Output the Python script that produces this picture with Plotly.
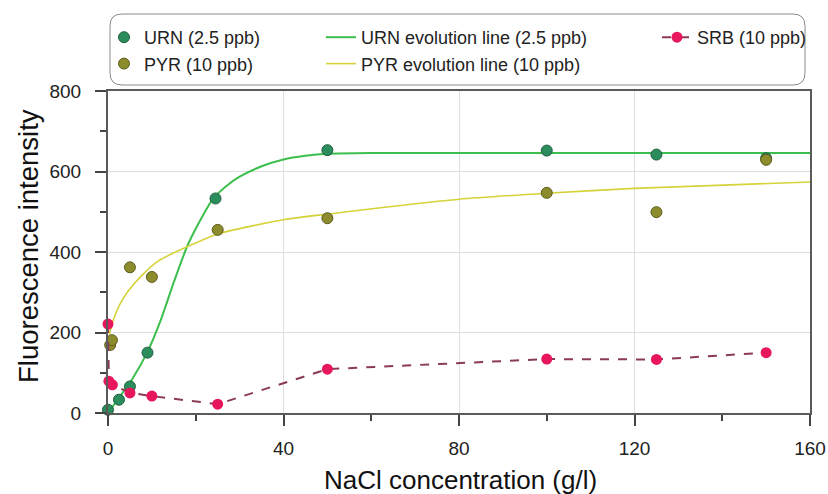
import plotly.graph_objects as go

# ---- data ----
urn_x = [0, 2.5, 5, 9, 24.5, 50, 100, 125, 150]
urn_y = [8, 33, 66, 150, 533, 653, 652, 642, 633]

pyr_x = [0.5, 0.9, 5, 10, 25, 50, 100, 125, 150]
pyr_y = [169, 181, 362, 338, 455, 484, 547, 499, 629]

srb_x = [0, 0.2, 1, 5, 10, 25, 50, 100, 125, 150]
srb_y = [221, 79, 70, 50, 42, 22, 109, 134, 133, 150]

urn_fit_x = [0, 2.5, 5.5, 9, 12, 15, 18, 21, 24, 27, 30, 35, 40, 45, 50, 60, 100, 160]
urn_fit_y = [0, 38, 84, 152, 230, 325, 413, 478, 533, 564, 587, 613, 630, 639, 644, 646, 646, 646]

pyr_fit_x = [0.3, 1.2, 2.7, 4.6, 8, 11.5, 18, 25, 40, 50, 80, 100, 120, 160]
pyr_fit_y = [195, 231, 270, 303, 345, 378, 413, 445, 480, 494, 531, 546, 558, 574]

x_ticks = [0, 40, 80, 120, 160]
y_ticks = [0, 200, 400, 600, 800]

x_title = "NaCl concentration (g/l)"
y_title = "Fluorescence intensity"

FONT = "Liberation Sans, Arial, sans-serif"
FW, FH = 828, 494

fig = go.Figure()

fig.add_trace(go.Scatter(x=urn_fit_x, y=urn_fit_y, mode="lines", line=dict(color="#3cbf4c", width=2, shape="spline", smoothing=0.6),
                         name="URN evolution line (2.5 ppb)", legend="legend2", legendgroup="g3"))
fig.add_trace(go.Scatter(x=pyr_fit_x, y=pyr_fit_y, mode="lines", line=dict(color="#d6d23a", width=1.6, shape="spline", smoothing=0.6),
                         name="PYR evolution line (10 ppb)", legend="legend2", legendgroup="g4"))
fig.add_trace(go.Scatter(x=urn_x, y=urn_y, mode="markers", name="URN (2.5 ppb)", legend="legend", legendgroup="g1",
                         marker=dict(size=11, color="#2b8c5c", line=dict(color="#1f5f40", width=1)), cliponaxis=False))
fig.add_trace(go.Scatter(x=pyr_x, y=pyr_y, mode="markers", name="PYR (10 ppb)", legend="legend", legendgroup="g2",
                         marker=dict(size=11, color="#8d8c2c", line=dict(color="#5e5c1c", width=1)), cliponaxis=False))
fig.add_trace(go.Scatter(x=srb_x, y=srb_y, mode="lines+markers", name="SRB (10 ppb)", legend="legend3", legendgroup="g5",
                         line=dict(color="#8a3b52", width=2, dash="dash"),
                         marker=dict(size=11, color="#e8175d"), cliponaxis=False))

# plot-area pixel frame
L, R, T, B = 108, 810, 91, 413
W, H = R - L, B - T
def px(x):
    return (x - L) / W
def py(y):
    return (B - y) / H
x0, x1, y0, y1 = px(110), px(805), py(85), py(14)
rx, ry = 12 / W, 12 / H
path = (f"M {x0+rx} {y0} L {x1-rx} {y0} Q {x1} {y0} {x1} {y0+ry} L {x1} {y1-ry} Q {x1} {y1} {x1-rx} {y1} "
        f"L {x0+rx} {y1} Q {x0} {y1} {x0} {y1-ry} L {x0} {y0+ry} Q {x0} {y0} {x0+rx} {y0} Z")

def leg(xpix, ypix):
    return dict(x=xpix / FW, y=1 - ypix / FH, xref="container", yref="container", xanchor="left", yanchor="top",
                orientation="v", bgcolor="rgba(0,0,0,0)", tracegroupgap=0,
                font=dict(size=18, family=FONT, color="#222"))

fig.update_layout(
    width=FW, height=FH,
    margin=dict(l=L, r=FW - R, t=T, b=FH - B, autoexpand=False),
    paper_bgcolor="white", plot_bgcolor="white",
    font=dict(family=FONT, color="#222"),
    shapes=[dict(type="path", path=path, xref="paper", yref="paper", line=dict(color="#8a8a8a", width=1), fillcolor="rgba(0,0,0,0)")],
    annotations=[
        dict(text=x_title, x=px(460), y=py(480), xref="paper", yref="paper", showarrow=False,
             xanchor="center", yanchor="middle", font=dict(size=26, family=FONT, color="#111")),
        dict(text=y_title, x=px(28), y=py(246), xref="paper", yref="paper", showarrow=False, textangle=-90,
             xanchor="center", yanchor="middle", font=dict(size=27.5, family=FONT, color="#111")),
    ],
    legend=leg(104, 19),
    legend2=leg(321, 19),
    legend3=leg(657, 19),
    xaxis=dict(range=[0, 160], tickvals=x_ticks, ticks="outside", ticklen=11, tickwidth=1.5, tickcolor="#444",
               showgrid=True, gridcolor="#dedede", gridwidth=1, zeroline=False,
               showline=True, linecolor="#5a5a5a", linewidth=2, mirror=True,
               minor=dict(dtick=20, tick0=0, ticks="outside", ticklen=6, tickcolor="#444", showgrid=False),
               tickfont=dict(size=19, family=FONT, color="#222"), ticklabelstandoff=6),
    yaxis=dict(range=[0, 800], tickvals=y_ticks, ticks="outside", ticklen=11, tickwidth=1.5, tickcolor="#444",
               showgrid=True, gridcolor="#dedede", gridwidth=1, zeroline=False,
               showline=True, linecolor="#5a5a5a", linewidth=2, mirror=True,
               minor=dict(dtick=100, tick0=0, ticks="outside", ticklen=6, tickcolor="#444", showgrid=False),
               tickfont=dict(size=19, family=FONT, color="#222"), ticklabelstandoff=10),
)

fig.write_html("out.html", config={"displayModeBar": False},
               post_script="document.body.style.margin='0';document.body.style.overflow='hidden';")
